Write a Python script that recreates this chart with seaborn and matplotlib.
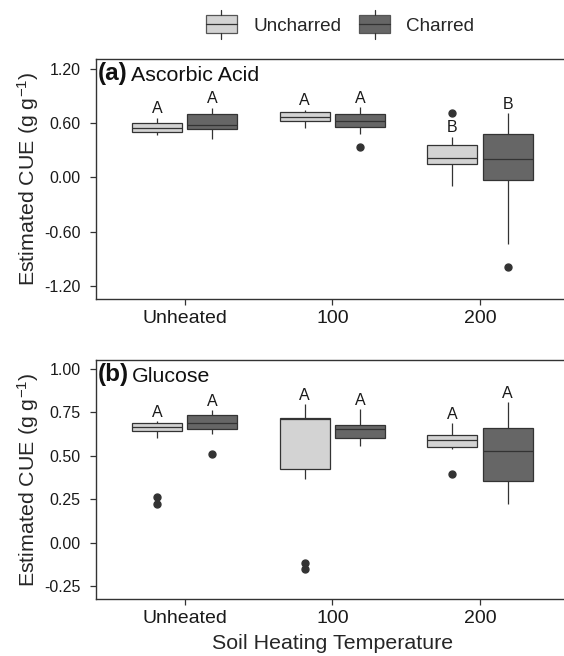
import matplotlib
matplotlib.use("Agg")
import matplotlib.pyplot as plt
from matplotlib.legend_handler import HandlerBase
from matplotlib.patches import Rectangle
from matplotlib.lines import Line2D
from matplotlib.ticker import FormatStrFormatter
import seaborn as sns
import numpy as np
import pandas as pd

# Treatments
temps = ["Unheated", "100", "200"]
chars = ["Uncharred", "Charred"]

# (a) Ascorbic acid - estimated CUE per replicate (g g-1)
asc_uncharred_unheated = [0.47, 0.48, 0.49, 0.50, 0.52, 0.54, 0.55, 0.57, 0.59, 0.60, 0.62, 0.64, 0.66]
asc_uncharred_100 = [0.55, 0.58, 0.61, 0.63, 0.65, 0.66, 0.67, 0.69, 0.70, 0.72, 0.73, 0.74, 0.75]
asc_uncharred_200 = [-0.09, 0.05, 0.11, 0.15, 0.18, 0.21, 0.22, 0.26, 0.31, 0.36, 0.40, 0.45, 0.71]
asc_charred_unheated = [0.43, 0.48, 0.52, 0.54, 0.55, 0.57, 0.58, 0.62, 0.66, 0.70, 0.72, 0.75, 0.77]
asc_charred_100 = [0.34, 0.48, 0.52, 0.56, 0.59, 0.61, 0.63, 0.65, 0.68, 0.70, 0.73, 0.76, 0.78]
asc_charred_200 = [-0.99, -0.74, -0.30, -0.03, 0.05, 0.14, 0.21, 0.30, 0.39, 0.48, 0.55, 0.63, 0.71]

# (b) Glucose - estimated CUE per replicate (g g-1)
glu_uncharred_unheated = [0.22, 0.265, 0.605, 0.645, 0.65, 0.66, 0.666, 0.675, 0.68, 0.688, 0.69, 0.695, 0.70]
glu_uncharred_100 = [-0.15, -0.12, 0.367, 0.423, 0.55, 0.68, 0.711, 0.715, 0.718, 0.72, 0.74, 0.77, 0.797]
glu_uncharred_200 = [0.396, 0.541, 0.545, 0.55, 0.565, 0.58, 0.592, 0.60, 0.61, 0.622, 0.64, 0.665, 0.688]
glu_charred_unheated = [0.511, 0.624, 0.64, 0.657, 0.67, 0.68, 0.691, 0.70, 0.72, 0.736, 0.745, 0.755, 0.763]
glu_charred_100 = [0.559, 0.575, 0.59, 0.605, 0.62, 0.64, 0.653, 0.66, 0.668, 0.675, 0.69, 0.72, 0.77]
glu_charred_200 = [0.221, 0.27, 0.32, 0.357, 0.42, 0.48, 0.528, 0.57, 0.62, 0.659, 0.70, 0.76, 0.809]

# Significance letters
asc_letters_uncharred = ["A", "A", "B"]
asc_letters_charred = ["A", "A", "B"]
glu_letters_uncharred = ["A", "A", "A"]
glu_letters_charred = ["A", "A", "A"]

asc_yticks = [-1.20, -0.60, 0.00, 0.60, 1.20]
glu_yticks = [-0.25, 0.00, 0.25, 0.50, 0.75, 1.00]

colors = {"Uncharred": "#d3d3d3", "Charred": "#666666"}
line_col = "#333333"
BOX_WIDTH = 0.75

sns.set_style("white")
plt.rcParams['font.family'] = ['Liberation Sans', 'DejaVu Sans']
plt.rcParams['mathtext.fontset'] = 'custom'
plt.rcParams['mathtext.rm'] = 'Liberation Sans'
plt.rcParams['mathtext.it'] = 'Liberation Sans:italic'
plt.rcParams['axes.edgecolor'] = line_col
plt.rcParams['axes.linewidth'] = 1.0


def make_frame(unch, ch):
    rows = []
    for char, series in (("Uncharred", unch), ("Charred", ch)):
        for temp, vals in zip(temps, series):
            for v in vals:
                rows.append({"temp": temp, "char": char, "cue": v})
    return pd.DataFrame(rows)


def whisker_top(vals):
    q1, q3 = np.percentile(vals, [25, 75])
    fence = q3 + 1.5 * (q3 - q1)
    return max(v for v in vals if v <= fence)


def draw_panel(ax, unch, ch, letters_u, letters_c, tag, title, yticks, ylim):
    df = make_frame(unch, ch)
    sns.boxplot(data=df, x="temp", y="cue", hue="char", order=temps, hue_order=chars,
                palette=colors, width=BOX_WIDTH, gap=0.1, linecolor=line_col,
                linewidth=0.9, whis=1.5, showcaps=False, fliersize=5,
                flierprops=dict(marker="o", markerfacecolor=line_col, markeredgecolor=line_col),
                legend=False, ax=ax)
    # letters sit on top of the upper whisker of each box
    off = BOX_WIDTH / 4
    for i in range(len(temps)):
        for series, letters, sign in ((unch, letters_u, -1), (ch, letters_c, 1)):
            ax.annotate(letters[i], xy=(i + sign * off, whisker_top(series[i])),
                        xytext=(0, 1), textcoords="offset points",
                        ha="center", va="bottom", fontsize=11.5, color="#1a1a1a")
    ax.set_xlim(-0.6, 2.6)
    ax.set_ylim(*ylim)
    ax.set_yticks(yticks)
    ax.yaxis.set_major_formatter(FormatStrFormatter("%.2f"))
    ax.tick_params(axis="both", which="major", direction="out", length=4.5, width=0.9,
                   color=line_col, left=True, bottom=True, labelcolor="#1a1a1a")
    ax.tick_params(axis="y", labelsize=11.5, pad=6.5)
    ax.tick_params(axis="x", labelsize=14, pad=3)
    ax.set_xlabel("")
    ax.set_ylabel("Estimated CUE (g g$^{\\mathrm{-1}}$)", fontsize=15.4)
    ax.yaxis.set_label_coords(-0.116, 0.5)
    t1 = ax.annotate(tag, xy=(0, 1), xycoords="axes fraction", xytext=(1.5, -2.5),
                     textcoords="offset points", ha="left", va="top",
                     fontsize=17.5, fontweight="bold", color="#111111")
    ax.annotate(title, xy=(1, 0), xycoords=t1, xytext=(2, 0.3), textcoords="offset points",
                ha="left", va="bottom", fontsize=15.4, color="#111111")


fig = plt.figure(figsize=(5.64, 6.56), dpi=100)
ax_a = fig.add_axes([0.1704, 0.5438, 0.8378, 0.3663])
ax_b = fig.add_axes([0.1704, 0.0864, 0.8378, 0.3648])

draw_panel(ax_a, [asc_uncharred_unheated, asc_uncharred_100, asc_uncharred_200],
           [asc_charred_unheated, asc_charred_100, asc_charred_200],
           asc_letters_uncharred, asc_letters_charred, "(a)", "Ascorbic Acid",
           asc_yticks, (-1.347, 1.311))
draw_panel(ax_b, [glu_uncharred_unheated, glu_uncharred_100, glu_uncharred_200],
           [glu_charred_unheated, glu_charred_100, glu_charred_200],
           glu_letters_uncharred, glu_letters_charred, "(b)", "Glucose",
           glu_yticks, (-0.327, 1.052))
ax_b.set_xlabel("Soil Heating Temperature", fontsize=15.4, labelpad=5)


class BoxHandler(HandlerBase):
    """Legend key drawn as a little boxplot glyph."""
    def create_artists(self, legend, orig_handle, xdescent, ydescent, width, height, fontsize, trans):
        x0, y0 = -xdescent, -ydescent
        xm = x0 + width / 2
        box = Rectangle((x0, y0), width, height, facecolor=orig_handle.get_facecolor(),
                        edgecolor="#555555", lw=0.9, transform=trans)
        mid = Line2D([x0, x0 + width], [y0 + height / 2] * 2, color=line_col, lw=0.9, transform=trans)
        up = Line2D([xm, xm], [y0 + height, y0 + height * 1.3], color=line_col, lw=0.9, transform=trans)
        dn = Line2D([xm, xm], [y0 - height * 0.3, y0], color=line_col, lw=0.9, transform=trans)
        return [box, mid, up, dn]


handles = [Rectangle((0, 0), 1, 1, facecolor=colors[c]) for c in chars]
fig.legend(handles, chars, loc="center", bbox_to_anchor=(0.603, 0.962), ncol=2,
           frameon=False, fontsize=13.6, handlelength=1.65, handleheight=1.1,
           handletextpad=0.85, columnspacing=0.95,
           handler_map={h: BoxHandler() for h in handles})

plt.savefig("out.png", dpi=100)
plt.close()
